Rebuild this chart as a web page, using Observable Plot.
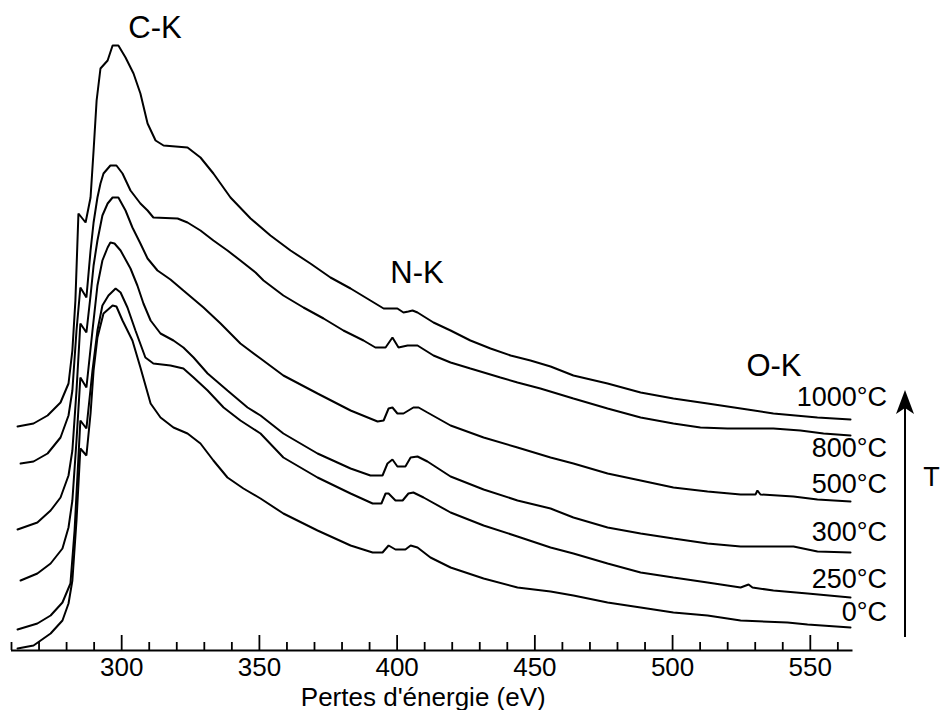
<!DOCTYPE html>
<html>
<head>
<meta charset="utf-8">
<script src="https://cdn.jsdelivr.net/npm/d3@7"></script>
<script src="https://cdn.jsdelivr.net/npm/@observablehq/plot@0.6"></script>
<style>
  html, body { margin: 0; padding: 0; background: #fff; }
  #chart { width: 942px; height: 710px; }
</style>
</head>
<body>
<div id="chart"></div>
<script>
// ---- Data: energy loss (eV), intensity (arbitrary, stacked) ----
const s1000 = [[262.2,224],[268.0,227],[273.1,235],[277.8,248],[280.7,267],[282.1,300],[283.2,350],[284.3,437],[286.9,428],[288.7,453],[289.8,500],[290.9,550],[292.3,582],[294.9,590],[296.7,605],[298.8,605],[301.4,593],[304.3,577],[306.8,557],[309.4,527],[312.3,510],[315.2,505],[323.9,503],[328.6,493],[333.3,477],[339.5,453],[346.8,432],[354.0,415],[361.3,400],[368.5,387],[375.8,373],[383.1,362],[390.3,350],[395.1,342],[400.1,342],[402.3,338],[404.1,339],[405.6,340],[407.4,338],[413.2,328],[419.4,320],[426.6,310],[433.9,302],[441.2,295],[448.4,290],[455.7,284],[464.0,275],[476.4,267],[488.4,258],[500.3,252],[512.7,247],[527.2,241],[536.6,237],[552.6,233],[564.6,231]];
const s800 = [[263.3,187],[268.0,189],[273.1,197],[277.8,213],[280.7,235],[282.1,260],[283.6,320],[285.0,363],[287.2,353],[288.7,400],[289.8,428],[291.2,453],[292.3,467],[293.4,477],[295.9,485],[298.1,485],[300.3,477],[303.2,460],[306.8,447],[309.4,440],[311.5,433],[320.3,432],[323.9,428],[328.6,420],[333.3,410],[338.4,400],[343.1,390],[348.6,378],[351.5,370],[358.7,355],[366.0,343],[373.3,332],[380.5,320],[387.8,310],[392.1,303],[395.8,303],[398.3,313],[400.5,303],[403.8,305],[407.4,305],[413.2,295],[419.4,288],[426.6,282],[437.5,273],[443.7,268],[452.0,262],[464.0,252],[476.4,242],[488.4,233],[500.3,227],[510.1,223],[519.9,222],[536.6,222],[546.4,220],[554.8,217],[564.6,215]];
const s500 = [[262.2,121],[269.4,128],[274.2,140],[277.8,153],[280.7,175],[282.1,200],[283.6,260],[285.0,327],[287.2,318],[288.7,355],[289.8,385],[291.2,410],[293.0,435],[294.9,447],[296.7,453],[298.8,453],[301.4,440],[303.9,423],[306.8,407],[309.4,392],[313.0,380],[317.7,371],[322.4,360],[329.7,343],[335.9,327],[343.1,307],[350.4,292],[358.7,275],[371.1,257],[383.1,240],[392.9,229],[395.1,230],[396.9,242],[398.3,243],[400.1,237],[402.3,237],[405.9,243],[407.8,243],[411.0,238],[419.4,225],[431.4,213],[443.7,203],[455.7,193],[464.0,187],[476.4,177],[488.4,170],[500.3,163],[512.7,159],[524.7,156],[530.1,156],[530.8,160],[531.9,156],[543.9,154],[552.6,151],[564.6,149]];
const s300 = [[263.3,70],[269.4,77],[274.2,87],[278.5,102],[280.7,123],[282.1,150],[283.6,210],[285.0,273],[287.2,263],[289.4,320],[291.2,365],[293.0,390],[294.9,403],[295.9,408],[297.4,407],[299.6,400],[303.2,382],[305.7,365],[307.9,347],[310.5,330],[314.1,317],[318.8,310],[322.4,303],[326.1,293],[331.2,277],[338.4,260],[345.7,243],[350.4,235],[358.7,217],[371.1,197],[383.1,182],[390.3,175],[394.7,175],[396.5,187],[398.3,191],[400.1,184],[403.0,184],[404.9,193],[407.4,194],[411.0,189],[419.4,174],[431.4,161],[443.7,150],[455.7,142],[464.0,133],[476.4,123],[488.4,117],[500.3,112],[512.7,107],[524.7,104],[543.9,104],[552.6,99],[564.6,98]];
const s250 = [[262.2,21],[269.4,27],[274.2,35],[278.5,48],[281.4,67],[282.9,120],[285.0,230],[287.2,222],[289.4,280],[291.2,320],[293.0,345],[295.2,355],[297.8,362],[299.6,358],[302.1,343],[305.0,320],[308.6,293],[311.5,287],[317.7,285],[322.4,282],[326.1,273],[331.2,260],[337.0,243],[343.1,230],[350.4,217],[358.7,193],[371.1,173],[383.1,157],[391.1,147],[394.3,147],[395.8,157],[396.9,157],[399.4,150],[402.0,150],[404.1,157],[405.9,158],[409.6,153],[419.4,138],[431.4,125],[443.7,114],[455.7,103],[464.0,97],[476.4,87],[488.4,78],[500.3,73],[512.7,68],[524.7,63],[527.6,66],[529.0,63],[536.6,60],[549.0,57],[564.6,53]];
const s0 = [[262.2,2],[268.0,5],[274.2,17],[278.5,30],[280.7,47],[282.1,70],[283.6,130],[285.0,202],[287.2,195],[288.7,237],[289.8,280],[291.2,313],[293.4,337],[296.7,345],[298.1,344],[300.3,330],[303.9,310],[306.8,283],[310.5,247],[314.1,233],[318.8,223],[323.9,217],[328.6,207],[333.3,190],[338.4,173],[344.2,162],[350.4,152],[358.7,137],[371.1,120],[383.1,105],[391.1,98],[394.7,98],[396.9,105],[399.4,101],[403.0,101],[404.9,105],[407.4,103],[412.1,93],[419.4,83],[431.4,72],[443.7,63],[455.7,59],[464.0,55],[476.4,48],[488.4,43],[500.3,38],[512.7,35],[524.7,30],[541.7,28],[549.0,26],[564.6,23]];

const seriesNames = ["1000°C", "800°C", "500°C", "300°C", "250°C", "0°C"];
const seriesData = [s1000, s800, s500, s300, s250, s0];
// intensity level where each temperature label sits
const seriesLabelLevel = [245, 194, 158, 110, 63, 30];

const majorTicks = [300, 350, 400, 450, 500, 550];
const minorTicks = d3.range(260, 561, 10).filter(v => v % 50 !== 0);

const edgeNames = ["C-K", "N-K", "O-K"];
const edgeEnergy = [312.1, 407.2, 536.8];
const edgeLevel = [613, 368, 275];

const xLabel = "Pertes d'énergie (eV)";
const arrowLabel = "T";
const arrowLevels = [13, 260];
const arrowLabelLevel = 165;

// ---- Build tables ----
const rows = seriesData.flatMap((pts, i) => pts.map(([e, v]) => ({t: seriesNames[i], e, v})));
const tempLabels = seriesNames.map((t, i) => ({t, v: seriesLabelLevel[i]}));
const edges = edgeNames.map((n, i) => ({n, e: edgeEnergy[i], v: edgeLevel[i]}));

const FONT = "'Liberation Sans', Arial, Helvetica, sans-serif";

const arrowMark = (index, scales, values, dims) => {
  const g = d3.create("svg:g");
  const x = dims.width - dims.marginRight + 52.5;
  const y1 = scales.y(arrowLevels[0]);
  const y2 = scales.y(arrowLevels[1]);
  g.append("line")
    .attr("x1", x).attr("x2", x)
    .attr("y1", y1).attr("y2", y2 + 16)
    .attr("stroke", "black").attr("stroke-width", 2);
  g.append("path")
    .attr("d", `M${x},${y2}L${x - 9},${y2 + 24}L${x},${y2 + 18}L${x + 9},${y2 + 24}Z`)
    .attr("fill", "black");
  return g.node();
};

const chart = Plot.plot({
  width: 942,
  height: 710,
  marginLeft: 11,
  marginRight: 89.5,
  marginTop: 0,
  marginBottom: 60,
  style: {fontFamily: FONT, fontSize: "27px", color: "black", background: "white"},
  x: {domain: [260, 565.5]},
  y: {domain: [0, 650], axis: null},
  marks: [
    Plot.ruleY([0], {stroke: "black", strokeWidth: 2}),
    Plot.ruleX(majorTicks, {stroke: "black", strokeWidth: 1.8, insetTop: 635}),
    Plot.ruleX(minorTicks, {stroke: "black", strokeWidth: 1.8, insetTop: 642}),
    Plot.axisX({ticks: majorTicks, tickSize: 0, tickPadding: 7, fontSize: 26, label: null, fill: "black"}),
    Plot.line(rows, {x: "e", y: "v", z: "t", stroke: "black", strokeWidth: 2, strokeLinejoin: "miter"}),
    Plot.text(tempLabels, {y: "v", text: "t", frameAnchor: "right", dx: 34, textAnchor: "end", lineAnchor: "bottom", fontSize: 27, fill: "black"}),
    Plot.text(edges, {x: "e", y: "v", text: "n", textAnchor: "middle", lineAnchor: "bottom", fontSize: 31, fill: "black"}),
    Plot.text([xLabel], {text: d => d, frameAnchor: "bottom", dx: -9, dy: 55, lineAnchor: "bottom", fontSize: 26, fill: "black"}),
    Plot.text([arrowLabel], {text: d => d, y: () => arrowLabelLevel, frameAnchor: "right", dx: 78.5, textAnchor: "middle", lineAnchor: "bottom", fontSize: 27, fill: "black"}),
    arrowMark
  ]
});

document.getElementById("chart").appendChild(chart);
</script>
</body>
</html>
